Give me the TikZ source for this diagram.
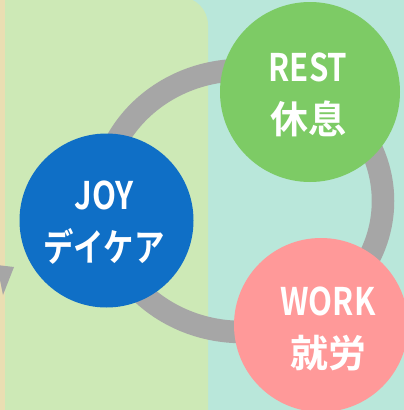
\documentclass[tikz,border=0pt]{standalone}
\usepackage{fontspec}
\newfontfamily\jpfont{Noto Sans CJK JP Bold}
\newfontfamily\kanafont[FakeStretch=0.8]{Noto Sans CJK JP Bold}
\newfontfamily\latinfont[FakeStretch=0.82]{Noto Sans CJK JP Bold}

\begin{document}
\begin{tikzpicture}[x=1pt, y=-1pt,
	word/.style={text=white, align=center, inner sep=0, font=\jpfont\fontsize{38}{52}\selectfont}]
	\definecolor{mint}{RGB}{185, 231, 218};
\definecolor{leaf}{RGB}{205, 233, 182};
\definecolor{sand}{RGB}{234, 222, 178};
\definecolor{ringgray}{RGB}{166, 166, 166};
\definecolor{joyblue}{RGB}{15, 111, 198};
\definecolor{restgreen}{RGB}{125, 203, 101};
\definecolor{workpink}{RGB}{255, 153, 153};

% \bubble#name#x#y#radius#color
\def\bubble#1#2#3#4#5{
	\node[circle, fill=#5, minimum size=2*#4, inner sep=0] (#1) at (#2, #3) {};
}

% \bubbletext#name#x#y#latin#japanese
\def\bubbletext#1#2#3#4#5{
	\node[word] (#1) at (#2, #3) {{\latinfont #4}\\#5};
}
	
	\useasboundingbox (0, 0) rectangle (404, 410);
	\clip (0, 0) rectangle (404, 410);
	
	% background panels
	\fill[mint] (0, 0) rectangle (404, 410);
	\fill[leaf] (-40, -3) [rounded corners=28] -- (208, -3) -- (208, 440) -- (-40, 440) -- cycle;
	\fill[sand] (0, -3) rectangle (4.5, 440);
	
	% next cycle, cut off
	\fill[ringgray] (-3, 265) -- (14, 267) -- (3, 295) -- cycle;
	
	% cycle ring
	\draw[ringgray, line width=22.5] (242, 201) ellipse [x radius=141, y radius=131];
	
	% circles
	\bubble{rest}{310}{92}{90}{restgreen}
	\bubble{joy}{106.5}{220.5}{87}{joyblue}
	\bubble{work}{321}{325}{87}{workpink}
	
	% texts
	\bubbletext{resttext}{308}{95}{REST}{休息}
	\bubbletext{joytext}{104}{223}{JOY}{\kanafont デイケア}
	\bubbletext{worktext}{328}{329}{WORK}{就労}
\end{tikzpicture}
\end{document}
